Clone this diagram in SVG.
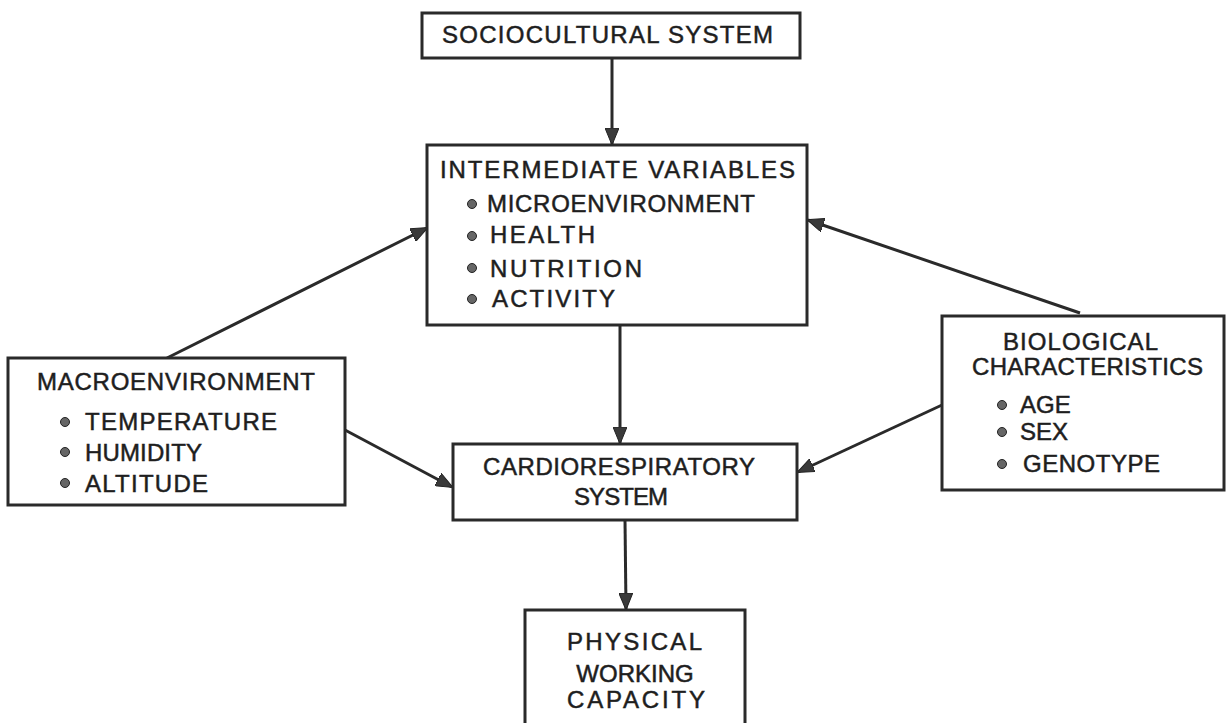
<svg xmlns="http://www.w3.org/2000/svg" width="1228" height="723" viewBox="0 0 1228 723">
<style>
.box{fill:#fff;stroke:#2a2a2a;stroke-width:3}
.t{font-family:"Liberation Sans","DejaVu Sans",sans-serif;font-size:24px;fill:#1e1e1e;stroke:#1e1e1e;stroke-width:0.5}
.b{fill:#666;stroke:#222;stroke-width:1}
.c{fill:none;stroke:#2a2a2a;stroke-width:3}
</style>
<defs>
<marker id="ah" markerUnits="userSpaceOnUse" markerWidth="18" markerHeight="14" refX="16" refY="7" orient="auto">
<path d="M0,0 L17,7 L0,14 Z" fill="#3a3a3a" stroke="#222" stroke-width="1"/>
</marker>
</defs>
<rect width="1228" height="723" fill="#fff"/>
<g id="connectors">
<line class="c" x1="612" y1="58" x2="612" y2="144" marker-end="url(#ah)"/>
<line class="c" x1="620" y1="326" x2="620" y2="443" marker-end="url(#ah)"/>
<line class="c" x1="625" y1="520" x2="626" y2="609" marker-end="url(#ah)"/>
<line class="c" x1="167" y1="358" x2="427" y2="228" marker-end="url(#ah)"/>
<line class="c" x1="1080" y1="313" x2="808" y2="220" marker-end="url(#ah)"/>
<line class="c" x1="345" y1="430" x2="452" y2="487" marker-end="url(#ah)"/>
<line class="c" x1="942" y1="405" x2="798" y2="472" marker-end="url(#ah)"/>
</g>
<g id="sociocultural">
<rect class="box" x="422" y="13" width="378" height="45"/>
<text class="t" x="442" y="43" textLength="331" lengthAdjust="spacing">SOCIOCULTURAL  SYSTEM</text>
</g>
<g id="intermediate">
<rect class="box" x="427" y="145" width="380" height="180"/>
<text class="t" x="440" y="178" textLength="355" lengthAdjust="spacing">INTERMEDIATE VARIABLES</text>
<circle class="b" cx="472" cy="204" r="4.5"/>
<text class="t" x="487" y="212" textLength="268" lengthAdjust="spacing">MICROENVIRONMENT</text>
<circle class="b" cx="472" cy="236" r="4.5"/>
<text class="t" x="490" y="243" textLength="105" lengthAdjust="spacing">HEALTH</text>
<circle class="b" cx="472" cy="268" r="4.5"/>
<text class="t" x="490" y="277" textLength="152" lengthAdjust="spacing">NUTRITION</text>
<circle class="b" cx="472" cy="299" r="4.5"/>
<text class="t" x="492" y="307" textLength="123" lengthAdjust="spacing">ACTIVITY</text>
</g>
<g id="macroenvironment">
<rect class="box" x="8" y="358" width="337" height="147"/>
<text class="t" x="37" y="390" textLength="278" lengthAdjust="spacing">MACROENVIRONMENT</text>
<circle class="b" cx="65" cy="422" r="4.5"/>
<text class="t" x="85" y="430" textLength="192" lengthAdjust="spacing">TEMPERATURE</text>
<circle class="b" cx="65" cy="452" r="4.5"/>
<text class="t" x="85" y="461" textLength="117" lengthAdjust="spacing">HUMIDITY</text>
<circle class="b" cx="65" cy="483" r="4.5"/>
<text class="t" x="85" y="492" textLength="123" lengthAdjust="spacing">ALTITUDE</text>
</g>
<g id="biological">
<rect class="box" x="942" y="316" width="282" height="174"/>
<text class="t" x="1003" y="350" textLength="155" lengthAdjust="spacing">BIOLOGICAL</text>
<text class="t" x="972" y="375" textLength="231" lengthAdjust="spacing">CHARACTERISTICS</text>
<circle class="b" cx="1002" cy="405" r="4.5"/>
<text class="t" x="1020" y="413">AGE</text>
<circle class="b" cx="1002" cy="432" r="4.5"/>
<text class="t" x="1020" y="440">SEX</text>
<circle class="b" cx="1002" cy="464" r="4.5"/>
<text class="t" x="1023" y="472" textLength="137" lengthAdjust="spacing">GENOTYPE</text>
</g>
<g id="cardiorespiratory">
<rect class="box" x="453" y="444" width="344" height="76"/>
<text class="t" x="483" y="475" textLength="272" lengthAdjust="spacing">CARDIORESPIRATORY</text>
<text class="t" x="574" y="505" textLength="94" lengthAdjust="spacing">SYSTEM</text>
</g>
<g id="physical">
<rect class="box" x="525" y="610" width="220" height="125"/>
<text class="t" x="567" y="650" textLength="135" lengthAdjust="spacing">PHYSICAL</text>
<text class="t" x="635" y="682" text-anchor="middle" font-size="22">WORKING</text>
<text class="t" x="567" y="708" textLength="138" lengthAdjust="spacing">CAPACITY</text>
</g>
</svg>
